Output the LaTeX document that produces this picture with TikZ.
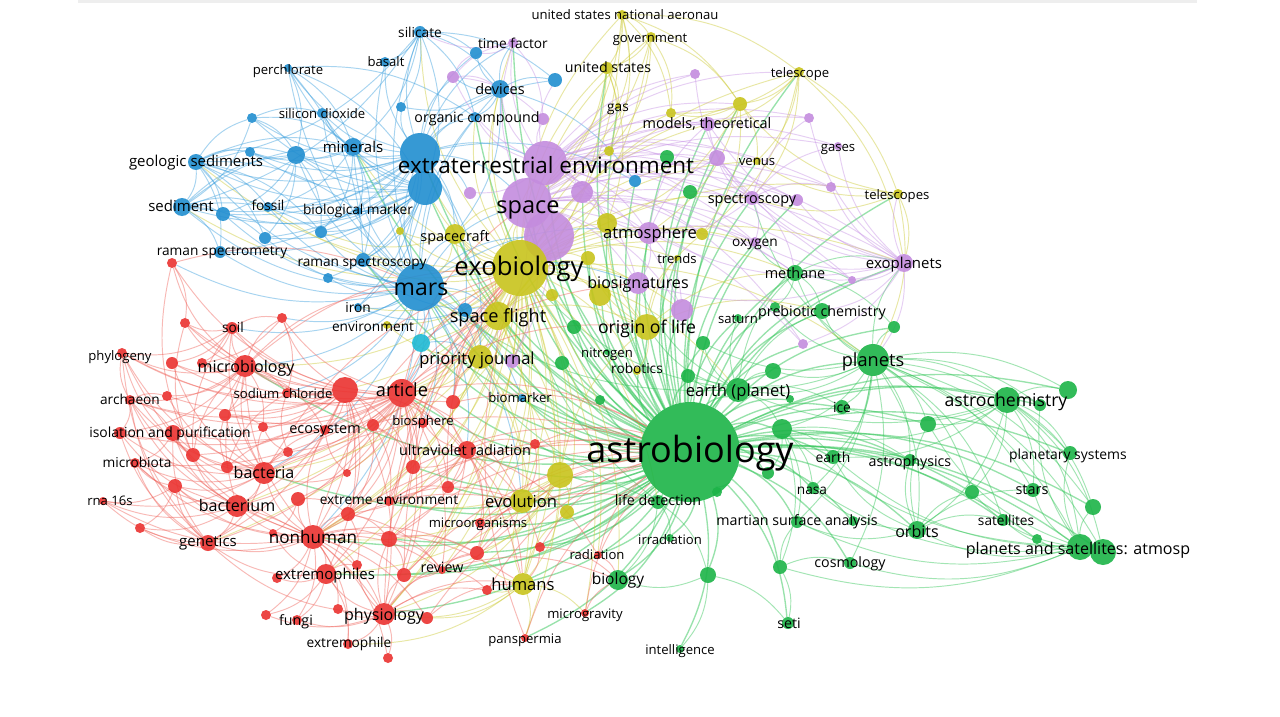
\documentclass[tikz,border=0pt]{standalone}
\usepackage{fontspec}
\setmainfont{Open Sans}
\definecolor{vr}{RGB}{235,50,48}
\definecolor{vg}{RGB}{28,180,72}
\definecolor{vb}{RGB}{33,142,208}
\definecolor{vy}{RGB}{200,196,28}
\definecolor{vp}{RGB}{196,140,222}
\definecolor{vc}{RGB}{30,186,212}
\definecolor{lr}{RGB}{240,100,92}
\definecolor{lg}{RGB}{50,198,88}
\definecolor{lb}{RGB}{60,160,222}
\definecolor{ly}{RGB}{205,203,55}
\definecolor{lp}{RGB}{200,148,230}
\definecolor{topbar}{RGB}{238,238,238}
\pgfdeclarelayer{bg}
\pgfdeclarelayer{edges}
\pgfdeclarelayer{labels}
\pgfsetlayers{bg,edges,main,labels}
\tikzset{
  nd/.style={circle, inner sep=0pt, outer sep=0pt, fill opacity=0.9},
  lbl/.style={inner sep=0pt, outer sep=0pt, text=black, anchor=mid},
  edgebase/.style={draw opacity=0.45, line width=0.95pt, bend left=19},
  eG/.style={edgebase, draw=lg},
  eGG/.style={edgebase, draw=lg, line width=1.35pt, draw opacity=0.5},
  eY/.style={edgebase, draw=ly},
  eB/.style={edgebase, draw=lb},
  eP/.style={edgebase, draw=lp},
  eR/.style={edgebase, draw=lr},
}
\begin{document}
\begin{tikzpicture}[x=1pt,y=-1pt]
\useasboundingbox (0,0) rectangle (1280,717);
\begin{pgfonlayer}{bg}
\fill[white] (0,0) rectangle (1280,717);
\fill[topbar] (78,0) rectangle (1197,3);
\end{pgfonlayer}

% ---------- nodes ----------
\node[nd, fill=vg, minimum size=100pt] (astro) at (690,452) {};
\foreach \n/\x/\y/\r in {
 gU1/667/157/7, gU2/690/192/7, methane/795/273/8, prebio/822/311/8, gU3/775/307/5,
 saturn/738/318/4, gU4/894/327/6, gU5/574/327/7, gU6/703/343/7, nitrogen/607/352/3,
 gU7/562/363/7, planets/873/360/16, gU8/773/371/8, gU9/688/376/7, gU10/600/400/5,
 earthp/738/390/12, gU11/790/399/4, ice/842/407/7, astrochem/1007/400/13, gU12/1068/390/9,
 gU13/1040/405/6, gU14/928/424/8, gU15/782/429/10, earth/833/457/7, astrophys/910/460/6,
 plansys/1070/453/7, gU16/768/473/6, nasa/813/488/6, gU17/972/492/7, stars/1033/490/7,
 gU18/1093/507/8, gU19/717/492/5, lifedet/658/502/7, msa/797/522/6, gU20/853/521/5,
 orbits/917/530/9, satellites/1003/520/6, gU21/1037/539/5, psat/1080/547/13, psat2/1103/552/13,
 irrad/670/538/4, cosmology/850/563/6, gU22/780/567/7, gU23/708/575/8, biology/618/580/10,
 seti/788/623/6, intel/680/649/4}
 {\node[nd, fill=vg, minimum size=\r*2pt] (\n) at (\x,\y) {};}

\foreach \n/\x/\y/\r in {
 ete/420/153/20, bU7/425/188/17, mars/420/287/24,
 silicate/420/32/6, bU1/476/53/6, basalt/385/62/5, perchlorate/288/68/4, bU2/555/80/7,
 devices/500/89/9, bU3/401/107/5, bU4/252/118/5, sio2/322/113/5, orgcomp/475/117/5,
 minerals/353/147/9, bU5/296/155/9, bU6/250/152/5, geosed/196/162/8, bU8/635/181/6,
 sediment/182/207/9, bU9/223/214/7, fossil/268/207/5, biomark/358/211/4, bU10/321/232/6,
 bU11/265/238/6, ramanm/220/252/6, ramans/363/260/7, bU12/328/278/5, iron/358/307/4,
 bU13/465/310/7, biomarker/522/398/4}
 {\node[nd, fill=vb, minimum size=\r*2pt] (\n) at (\x,\y) {};}
\node[nd, fill=vc, minimum size=18pt] (envc) at (421,343) {};

\foreach \n/\x/\y/\r in {
 ete2/545/163/22, space/527/203/25, space2/549/236/25,
 timefactor/513/43/5, pU1/453/77/6, pU2/695/74/5, pU3/543/119/6, modtheo/708/124/7,
 pU4/809/118/5, gases/838/146/4, pU5/717/158/8, pU6/582/192/11, pU7/470/193/6,
 spectro/752/198/7, pU8/797/200/6, pU9/831/187/5, atmos/649/233/11, oxygen/755/242/5,
 exoplan/904/263/9, pU10/852/280/4, biosig/638/283/11, pU11/682/310/11, pU12/512/361/7,
 pU13/803/344/5}
 {\node[nd, fill=vp, minimum size=\r*2pt] (\n) at (\x,\y) {};}

\foreach \n/\x/\y/\r in {
 exo/520/268/28,
 usnasa/622/15/5, govt/651/37/5, us/607/68/6, telescope/799/72/5, yU1/740/104/7,
 yU2/671/113/5, gas/618/106/3, yU3/609/151/5, venus/757/161/4, telescopes/898/194/5,
 yU4/400/231/4, spacecraft/455/234/10, yU5/607/223/10, yU6/702/234/6, yU7/588/258/7,
 trends/677/258/3, yU8/600/295/11, yU9/552/295/6, spflight/498/316/14, origin/647/327/13,
 envy/387/325/4, prior/480/357/12, robotics/637/371/4, yU10/560/475/13, evolution/522/501/12,
 yU11/567/512/7, humans/523/584/11}
 {\node[nd, fill=vy, minimum size=\r*2pt] (\n) at (\x,\y) {};}

\foreach \n/\x/\y/\r in {
 rU1/172/263/5, rU2/185/323/5, rU3/282/318/5, soil/232/328/6, phylo/122/353/5,
 rU4/172/363/6, rU5/202/363/5, microbio/245/366/11, rU6/345/390/13, article/402/393/14,
 nacl/287/393/5, rU7/167/396/5, archaeon/130/400/5, rU8/453/402/7, rU9/225/415/6,
 biosphere/423/423/5, rU10/373/425/6, rU11/263/427/5, isopur/173/433/8, rU12/120/433/6,
 ecosys/325/430/5, uv/467/450/9, rU13/535/444/5, rU14/288/452/5, rU15/193/455/7,
 microbiota/135/463/5, rU16/227/467/6, bacteria/264/473/11, rU17/347/473/4, rU18/413/467/7,
 rU19/175/486/7, rU20/448/487/6, rna/103/501/4, bacterium/237/506/11, rU21/298/499/7,
 extenv/389/501/5, rU22/348/514/7, micorg/480/523/5, rU23/140/528/5, rU24/273/533/4,
 genetics/208/543/8, nonhuman/313/537/12, rU25/389/539/8, rU26/477/553/7, rU27/540/547/5,
 radiation/598/555/4, rU28/357/565/5, review/442/570/4, extremophiles/326/574/10, rU29/277/578/5,
 rU30/404/575/7, rU31/487/590/5, microgr/585/613/4, rU32/266/615/5, rU33/338/609/5,
 fungi/297/620/5, physio/384/614/11, rU34/427/618/6, panspermia/525/638/4, extremophile/348/644/5,
 rU35/388/658/5}
 {\node[nd, fill=vr, minimum size=\r*2pt] (\n) at (\x,\y) {};}

% ---------- edges ----------
\begin{pgfonlayer}{edges}
\foreach \t in {gU1,gU2,methane,prebio,gU3,saturn,gU4,gU5,gU6,nitrogen,gU7,planets,gU8,gU9,gU10,earthp,gU11,ice,astrochem,gU12,gU13,gU14,gU15,earth,astrophys,plansys,gU16,nasa,gU17,stars,gU18,gU19,lifedet,msa,gU20,orbits,satellites,gU21,psat,psat2,irrad,cosmology,gU22,gU23,biology,seti,intel,exo,space,space2,ete,ete2,mars,bU7,spflight,origin,biosig,atmos,exoplan,spectro,oxygen,prior,evolution,yU10,yU5,yU8,pU11,pU5,modtheo,spacecraft,minerals,devices,orgcomp,article,uv,rU8,robotics,biomarker,envc,humans,trends,venus,telescopes,pU13,yU9,yU7,pU6,bU8,us,gas,microbio,nonhuman,bacteria,physio,extremophiles,review,rU25,rU30,rU26,rU27,micorg,panspermia,microgr,radiation,rU13,extenv,rU18,rU20,pU12,bU13,ramans,timefactor,yU1,telescope,pU8,pU10}
 {\draw[eGG] (astro) to (\t);}
\foreach \t in {astrochem,gU12,stars,orbits,psat,psat2,gU14,astrophys,plansys,gU18,satellites,exoplan,methane,prebio,gU4,earthp,gU8,ice,gU15,earth,gU17,nasa,gU13,spectro,gU6,gU9,gU3,msa,cosmology}
 {\draw[eG] (planets) to (\t);}
\foreach \t in {gU12,gU14,stars,psat2,gU18,orbits,earth,gU15,gU13,plansys,psat,ice,earthp,gU17}
 {\draw[eG] (astrochem) to (\t);}
\foreach \t in {stars,gU21,satellites,orbits,gU17,plansys,gU13,gU18,gU14,earth,msa,gU15,cosmology,nasa,gU22}
 {\draw[eG] (psat) to (\t);}
\foreach \t in {stars,satellites,astrophys,gU17,gU14,msa,earth,nasa}
 {\draw[eG] (orbits) to (\t);}
\foreach \t in {gU8,gU9,gU6,ice,methane,prebio,saturn,gU15,gU11,exo,origin,biosig,mars}
 {\draw[eG] (earthp) to (\t);}
\foreach \t in {earth,nasa,msa,gU16,astrophys,gU22}
 {\draw[eG] (gU15) to (\t);}
\foreach \t in {biology,irrad,gU23,mars,exo}
 {\draw[eG] (lifedet) to (\t);}
\foreach \t in {intel,biology,seti}
 {\draw[eG] (gU23) to (\t);}
\foreach \t in {seti,msa,cosmology}
 {\draw[eG] (gU22) to (\t);}
\foreach \t in {prebio,gU3,oxygen,exoplan,gU4,pU10}
 {\draw[eG] (methane) to (\t);}

\foreach \t in {spacecraft,yU4,yU5,yU7,yU8,yU9,spflight,origin,prior,envy,robotics,yU10,evolution,yU11,humans,us,usnasa,govt,gas,yU3,telescope,venus,telescopes,trends,yU6,yU1,yU2,biosig,atmos,space,ete,mars,ete2,devices,orgcomp,minerals,sediment,geosed,fossil,article,rU6,microbio,bacteria,nonhuman,physio,extremophiles,uv,panspermia,microgr,radiation,review,biology,lifedet,earthp,planets,methane,oxygen,spectro,bU7,ramans,iron,envc,pU11,pU12,timefactor,silicate,rU8,micorg,extenv,genetics,bacterium,rU25,rU30,rU26,exoplan,modtheo,pU5,bU13}
 {\draw[eY] (exo) to (\t);}
\foreach \t in {govt,us,yU2,gas,telescope,yU1,spflight,yU3,space}
 {\draw[eY] (usnasa) to (\t);}
\foreach \t in {us,yU1,yU2,space,yU3,spflight}
 {\draw[eY] (govt) to (\t);}
\foreach \t in {yU1,telescopes,venus,modtheo,spectro,yU2,exoplan,yU6}
 {\draw[eY] (telescope) to (\t);}
\foreach \t in {gas,yU3,spflight,yU5,space}
 {\draw[eY] (us) to (\t);}
\foreach \t in {venus,exoplan,planets,spectro,yU1}
 {\draw[eY] (telescopes) to (\t);}
\foreach \t in {venus,yU2,modtheo,yU5,yU6,atmos}
 {\draw[eY] (yU1) to (\t);}
\foreach \t in {prior,yU10,evolution,humans,origin,yU9,space,mars,spacecraft,article,nonhuman,physio}
 {\draw[eY] (spflight) to (\t);}
\foreach \t in {evolution,humans,yU11,origin,micorg,review,rU26,physio,nonhuman,extremophiles,extenv}
 {\draw[eY] (yU10) to (\t);}
\foreach \t in {panspermia,microgr,rU26,physio,evolution,rU31,yU11,rU34,extremophile}
 {\draw[eY] (humans) to (\t);}
\foreach \t in {biosig,yU8,yU5,yU6,robotics,trends,prebio,methane,yU7}
 {\draw[eY] (origin) to (\t);}
\foreach \t in {evolution,humans,article,nonhuman,envy,yU10,bacteria}
 {\draw[eY] (prior) to (\t);}
\foreach \t in {spflight,yU4,mars,bU10,space}
 {\draw[eY] (spacecraft) to (\t);}

\foreach \t in {ete,bU7,ramans,ramanm,iron,bU12,bU13,bU10,bU11,fossil,sediment,geosed,minerals,bU5,bU9,biomark,envc,space,space2,spflight,prior,article,microbio,soil,nacl,rU6,bacteria,spacecraft,silicate,basalt,perchlorate,sio2,devices,orgcomp,rU1,rU3,uv,nonhuman,evolution,biomarker,yU4,atmos,biosig,rU8,biosphere}
 {\draw[eB] (mars) to (\t);}
\foreach \t in {silicate,basalt,perchlorate,sio2,bU1,bU2,bU3,bU4,devices,orgcomp,minerals,bU5,bU6,geosed,sediment,bU9,fossil,biomark,bU10,bU11,ramanm,ramans,timefactor,pU1,space,bU8,ete2,pU7,spacecraft,yU4,bU13,iron,prior}
 {\draw[eB] (ete) to (\t);}
\foreach \t in {geosed,sediment,minerals,bU5,fossil,bU9,bU6,bU4,sio2,ramanm,bU10,bU11,biomark,ramans,bU12,iron,perchlorate}
 {\draw[eB] (bU7) to (\t);}
\foreach \t in {basalt,bU1,devices,bU2,orgcomp,sediment,minerals,geosed,bU3,bU7}
 {\draw[eB] (silicate) to (\t);}
\foreach \t in {minerals,bU7,orgcomp,bU5,ramans}
 {\draw[eB] (perchlorate) to (\t);}
\foreach \t in {sediment,bU5,minerals,bU6,bU4,fossil,bU9,ramanm,bU11,biomark,bU10}
 {\draw[eB] (geosed) to (\t);}
\foreach \t in {bU9,fossil,bU11,ramanm,minerals,bU10,bU5}
 {\draw[eB] (sediment) to (\t);}
\foreach \t in {bU1,bU2,timefactor,pU1,orgcomp,bU3,bU8,spacecraft}
 {\draw[eB] (devices) to (\t);}
\foreach \t in {bU5,sio2,fossil,biomark,bU10,bU6,ramans}
 {\draw[eB] (minerals) to (\t);}
\foreach \t in {sio2,minerals,bU5,sediment}
 {\draw[eB] (bU4) to (\t);}
\foreach \t in {bU6,fossil,bU9,bU10,bU11}
 {\draw[eB] (bU5) to (\t);}
\foreach \t in {spflight,prior,ramans,iron}
 {\draw[eB] (bU13) to (\t);}
\foreach \t in {prior,spflight,article}
 {\draw[eB] (envc) to (\t);}

\foreach \t in {space,pU6,pU7,pU3,pU1,timefactor,pU2,modtheo,pU4,gases,pU5,spectro,pU8,pU9,atmos,oxygen,exoplan,pU10,biosig,pU11,pU12,pU13,venus,telescope,devices,bU2,orgcomp,yU5,yU1,gU1,gU2}
 {\draw[eP] (ete2) to (\t);}
\foreach \t in {atmos,spectro,biosig,pU11,oxygen,exoplan,pU5,modtheo,gases,pU9,pU8,pU13,pU10,timefactor,pU2,pU4,pU12,prior,methane,yU6}
 {\draw[eP] (space) to (\t);}
\foreach \t in {spectro,pU8,pU9,gases,atmos,oxygen,pU10,pU4,methane,telescopes,planets,pU5,modtheo,biosig,prebio,pU13}
 {\draw[eP] (exoplan) to (\t);}
\foreach \t in {pU4,gases,pU9,pU5,modtheo,oxygen,pU2,atmos,methane}
 {\draw[eP] (spectro) to (\t);}
\foreach \t in {oxygen,pU5,modtheo,methane,biosig,pU11,pU6}
 {\draw[eP] (atmos) to (\t);}
\foreach \t in {timefactor,devices,bU1,pU3}
 {\draw[eP] (pU1) to (\t);}
\foreach \t in {bU1,pU3,silicate}
 {\draw[eP] (timefactor) to (\t);}

\foreach \t in {rU6,microbio,bacteria,bacterium,nonhuman,uv,rU8,biosphere,rU10,ecosys,nacl,soil,rU3,rU2,phylo,rU4,isopur,rU12,archaeon,microbiota,genetics,physio,extremophiles,extenv,rU25,rU18,rU20,review,rU30,prior,evolution,humans,rU17,rU21,rU22,rU14,rU16,rU9,spflight,astro,exo,origin,biosig,space}
 {\draw[eR] (article) to (\t);}
\foreach \t in {microbio,soil,rU3,rU1,rU5,nacl,rU9,rU11,isopur,rU15,bacteria,bacterium,nonhuman,genetics,extremophiles,rU17,rU18,uv,physio,rU22,phylo,archaeon,rU7,rU2,rU10,ecosys}
 {\draw[eR] (rU6) to (\t);}
\foreach \t in {bacteria,bacterium,genetics,microbio,physio,extremophiles,rU25,rU28,rU29,fungi,rU32,rU33,extremophile,rU30,review,rU26,rU21,rU22,rU24,rU19,rU23,isopur,microbiota,archaeon,rna,phylo,ecosys,rU34,rU35,astro,exo,humans,evolution}
 {\draw[eR] (nonhuman) to (\t);}
\foreach \t in {bacterium,microbio,isopur,microbiota,rna,rU19,rU15,rU16,genetics,archaeon,rU12,phylo,rU7,rU4,rU14,ecosys,rU11,rU9,soil,exo,astro}
 {\draw[eR] (bacteria) to (\t);}
\foreach \t in {genetics,rna,rU23,rU19,microbiota,isopur,rU12,archaeon,microbio,rU15,physio}
 {\draw[eR] (bacterium) to (\t);}
\foreach \t in {soil,rU4,rU5,phylo,rU2,rU7,archaeon,rU9,isopur,rU12,rU11,nacl,rU1,rU3,ecosys,exo,mars}
 {\draw[eR] (microbio) to (\t);}
\foreach \t in {extremophiles,extremophile,fungi,rU32,rU33,rU34,rU35,rU30,rU25,rU28,genetics,review,rU31,rU26,humans,exo}
 {\draw[eR] (physio) to (\t);}
\foreach \t in {rU13,rU18,rU20,extenv,micorg,rU26,rU27,radiation,rU8,biosphere,rU10,rU25,rU30,rU22,humans}
 {\draw[eR] (uv) to (\t);}
\foreach \t in {rU28,rU29,fungi,extremophile,rU32,genetics,rU24}
 {\draw[eR] (extremophiles) to (\t);}
\foreach \t in {rU23,rna,microbiota,rU19,isopur,rU12,archaeon,phylo}
 {\draw[eR] (genetics) to (\t);}
\foreach \s/\t in {rU8/exo,rU8/astro,rU8/prior,rU8/spflight,rU13/astro,rU13/evolution,rU27/astro,rU27/humans,rU27/biology,radiation/astro,radiation/biology,microgr/astro,microgr/biology,panspermia/exo,panspermia/astro,rU26/astro,rU26/evolution,review/astro,review/biology,rU30/astro,rU30/exo,extenv/astro,extenv/evolution,rU20/astro,rU20/exo,micorg/astro,micorg/lifedet,rU25/astro,rU25/exo,rU18/exo,rU18/astro,rU31/astro,rU34/astro,rU34/humans,rU1/mars,rU1/rU2,
 rU15/microbio,rU15/soil,rU15/rU2,rU15/rU1,rU15/phylo,rU15/isopur,rU19/rna,rU19/rU23,rU19/microbiota,rU16/rU9,rU16/nacl,rU16/ecosys,soil/rU2,soil/rU4,soil/rU3,soil/phylo,soil/rU5,rU10/rU8,rU10/biosphere,rU10/rU18,rU10/extenv,rU10/rU22,rU22/rU25,rU22/extenv,rU22/rU28,rU22/review,rU25/rU30,rU25/rU26,rU25/review,review/rU26,review/rU30,review/rU31,rU21/rU22,rU21/rU24,archaeon/phylo,archaeon/rU12,archaeon/isopur,archaeon/rU7,rU17/bacteria,rU17/ecosys,extenv/rU18,extenv/rU20,rU14/nacl,rU14/rU11,rU14/rU16,isopur/rU12,isopur/microbiota,rU9/rU11,rU9/nacl,rU3/rU5,rU3/nacl}
 {\draw[eR] (\s) to (\t);}
\end{pgfonlayer}

% ---------- labels ----------
\begin{pgfonlayer}{labels}
\foreach \n/\x/\y/\s/\t in {
 silicate/420/32/12/silicate, basalt/386/61/11.5/basalt, perchlorate/288/69/11.5/perchlorate,
 sio2/322/113/11.5/silicon dioxide, timefactor/513/43/12/time factor, devices/500/89/13.5/devices,
 orgcomp/477/117/12.5/organic compound, usnasa/625/14/11.5/united states national aeronau,
 govt/650/37/11.5/government, us/608/67/12.5/united states, telescope/800/72/11.5/telescope,
 gas/618/106/12/gas, modtheo/707/123/13.5/{models, theoretical}, gases/838/146/11.5/gases,
 minerals/353/147/14/minerals, geosed/196/161/14/geologic sediments,
 ete/546/166/21/extraterrestrial environment, venus/757/160/11.5/venus,
 spectro/752/198/13.5/spectroscopy, telescopes/897/194/11.5/telescopes,
 sediment/181/206/14/sediment, fossil/268/205/12/fossil, biomark/358/209/12/biological marker,
 space/528/206/22/space, spacecraft/455/236/13.5/spacecraft, atmos/650/232/15.5/atmosphere,
 oxygen/755/241/12/oxygen, ramanm/222/250/12/raman spectrometry, ramans/362/261/12/raman spectroscopy,
 trends/677/258/11.5/trends, exo/519/267/24/exobiology, exoplan/904/263/14/exoplanets,
 methane/795/273/13.5/methane, biosig/638/282/15/biosignatures, mars/421/288/21.5/mars,
 iron/358/307/12/iron, spflight/498/316/17/space flight, origin/647/327/16.5/origin of life,
 saturn/738/318/11.5/saturn, prebio/822/311/12.5/prebiotic chemistry, soil/233/327/12/soil,
 envy/373/326/12/environment, phylo/120/355/11.5/phylogeny, prior/477/358/15.5/priority journal,
 nitrogen/607/352/11.5/nitrogen, planets/873/360/17/planets, microbio/246/366/15/microbiology,
 robotics/637/368/12/robotics, earthp/738/390/15.5/earth (planet), article/402/390/17/article,
 nacl/283/393/11.5/sodium chloride, archaeon/130/399/12/archaeon, biomarker/520/397/11.5/biomarker,
 astrochem/1006/400/16.5/astrochemistry, ice/842/407/13/ice, biosphere/423/420/11.5/biosphere,
 isopur/170/432/13/isolation and purification, ecosys/325/428/13.5/ecosystem,
 uv/465/450/13.5/ultraviolet radiation, astro/690/452/36/astrobiology, earth/833/457/13/earth,
 astrophys/910/461/12.5/astrophysics, plansys/1068/454/13/planetary systems,
 microbiota/137/462/12/microbiota, bacteria/264/472/15/bacteria, nasa/812/489/12/nasa,
 stars/1032/489/13.5/stars, rna/110/500/11.5/rna 16s, bacterium/237/505/15/bacterium,
 extenv/389/499/12/extreme environment, evolution/521/501/15.5/evolution,
 lifedet/658/500/12.5/life detection, msa/797/520/12.5/martian surface analysis,
 orbits/917/531/15/orbits, satellites/1006/520/12/satellites, micorg/478/522/11.5/microorganisms,
 irrad/670/539/11.5/irradiation, genetics/208/541/14/genetics, nonhuman/313/537/16/nonhuman,
 psat/1078/548/15/{planets and satellites: atmosp}, cosmology/850/562/12.5/cosmology,
 radiation/597/554/11.5/radiation, review/442/567/12.5/review, extremophiles/325/574/14/extremophiles,
 humans/523/584/15.5/humans, biology/618/578/14.5/biology, microgr/585/613/11.5/microgravity,
 physio/384/614/15/physiology, fungi/296/620/12.5/fungi, seti/789/623/12.5/seti,
 panspermia/525/638/11.5/panspermia, extremophile/349/642/12/extremophile, intel/680/649/11.5/intelligence}
 {\pgfmathsetmacro\fs{ifthenelse(\s<13,\s*1.14,ifthenelse(\s<30,\s*1.07,\s))}
  \pgfmathsetmacro\dy{-0.22*\fs}
  \node[lbl, font=\fontsize{\fs}{\fs}\selectfont, yshift=\dy pt] (\n-l) at (\x,\y) {\t};}
\end{pgfonlayer}
\end{tikzpicture}
\end{document}
